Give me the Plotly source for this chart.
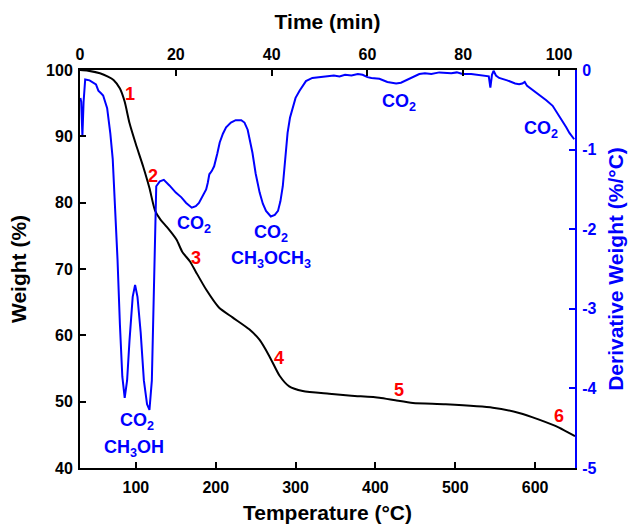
import plotly.graph_objects as go

# ---- data ----
temp_w = [30, 40, 55, 65, 72, 80, 86, 92, 100, 109, 117, 124, 131, 139, 151, 158, 168, 175,
          188, 204, 221, 242, 255, 267, 280, 292, 309, 342, 370, 405, 425, 447, 488, 547,
          580, 605, 630, 650]
weight = [100, 99.9, 99.5, 99.0, 98.5, 97.2, 95.2, 92.0, 88.8, 85.5, 82.2, 78.8, 77.4, 76.3,
          74.4, 72.6, 71.1, 69.6, 66.9, 64.2, 62.7, 60.9, 59.3, 56.9, 53.9, 52.3, 51.6, 51.2,
          50.9, 50.6, 50.2, 49.8, 49.6, 49.1, 48.3, 47.3, 46.1, 44.8]

temp_d = [30.5, 31.5, 33, 34.5, 36.5, 42, 50, 53, 56, 59, 64, 68, 71, 74, 77, 80, 83, 86, 89,
          92, 96, 99, 102, 106, 110, 114, 117, 120, 122, 124, 125.5, 130, 135, 142, 150, 157,
          163, 170, 175, 179, 184, 188, 190, 192, 195, 198, 202, 205, 209, 213, 219, 225, 232,
          236, 240, 246, 250, 255, 259, 263, 269, 274, 278, 281, 284, 287, 290, 293, 296, 300,
          305, 313, 321, 330, 340, 348, 355, 362, 370, 378, 384, 390, 395, 405, 415, 426, 432,
          438, 445, 455, 462, 470, 480, 488, 495, 502, 509, 520, 528, 534, 542, 544, 546, 548,
          551, 555, 565, 575, 580, 584, 587, 590, 597, 605, 614, 622, 628, 634, 639, 643, 646,
          649]
deriv = [-0.35, -0.40, -0.83, -0.40, -0.12, -0.13, -0.18, -0.26, -0.29, -0.32, -0.48, -0.80,
         -1.12, -1.70, -2.38, -3.20, -3.85, -4.12, -3.90, -3.40, -2.85, -2.70, -2.85, -3.30,
         -3.90, -4.20, -4.27, -3.90, -3.00, -2.00, -1.46, -1.40, -1.38, -1.45, -1.54, -1.60,
         -1.67, -1.73, -1.71, -1.67, -1.58, -1.50, -1.42, -1.31, -1.27, -1.21, -1.05, -0.91,
         -0.80, -0.72, -0.66, -0.63, -0.63, -0.66, -0.75, -1.04, -1.30, -1.54, -1.68, -1.77,
         -1.84, -1.82, -1.77, -1.65, -1.46, -1.10, -0.79, -0.60, -0.49, -0.35, -0.26, -0.14,
         -0.10, -0.09, -0.08, -0.07, -0.08, -0.06, -0.07, -0.05, -0.06, -0.09, -0.10, -0.11,
         -0.15, -0.17, -0.16, -0.13, -0.09, -0.05, -0.04, -0.05, -0.03, -0.04, -0.04, -0.03,
         -0.05, -0.05, -0.06, -0.07, -0.08, -0.22, -0.06, -0.01, -0.07, -0.10, -0.13, -0.17,
         -0.18, -0.17, -0.15, -0.20, -0.25, -0.31, -0.38, -0.45, -0.54, -0.64, -0.72, -0.79,
         -0.83, -0.87]

temp_ticks = [100, 200, 300, 400, 500, 600]
time_ticks = [0, 20, 40, 60, 80, 100]
weight_ticks = [40, 50, 60, 70, 80, 90, 100]
deriv_ticks = [-5, -4, -3, -2, -1, 0]
time_range = [0, 103.33]

stage_labels = ["1", "2", "3", "4", "5", "6"]
stage_T = [92, 122, 175, 279, 430, 630]
stage_W = [96.4, 84.0, 71.7, 56.6, 51.8, 47.9]

gas_labels = ["CO<sub>2</sub>", "CH<sub>3</sub>OH", "CO<sub>2</sub>", "CO<sub>2</sub>",
              "CH<sub>3</sub>OCH<sub>3</sub>", "CO<sub>2</sub>", "CO<sub>2</sub>"]
gas_T = [102, 98, 173, 269, 269, 430, 607]
gas_D = [-4.42, -4.76, -1.94, -2.05, -2.38, -0.41, -0.75]

BLUE = "#0000ff"
FONT = "Liberation Sans"

fig = go.Figure()
fig.add_trace(go.Scatter(x=temp_w, y=weight, mode="lines",
                         line=dict(color="black", width=2, shape="spline", smoothing=0.6),
                         showlegend=False, xaxis="x", yaxis="y"))
fig.add_trace(go.Scatter(x=temp_d, y=deriv, mode="lines", line=dict(color=BLUE, width=2),
                         showlegend=False, xaxis="x", yaxis="y2"))
# top time axis reference (no visible mark)
fig.add_trace(go.Scatter(x=time_range, y=[None, None], mode="lines", showlegend=False,
                         hoverinfo="skip", xaxis="x2", yaxis="y"))

for t, T, W in zip(stage_labels, stage_T, stage_W):
    fig.add_annotation(x=T, y=W, xref="x", yref="y", text=t, showarrow=False,
                       font=dict(family=FONT, size=18, color="#ff0000", weight="bold"))
for t, T, D in zip(gas_labels, gas_T, gas_D):
    fig.add_annotation(x=T, y=D, xref="x", yref="y2", text=t, showarrow=False,
                       font=dict(family=FONT, size=18, color=BLUE, weight="bold"))

tickfont = dict(family=FONT, size=16, color="black", weight="bold")
titlefont = dict(family=FONT, size=21, color="black", weight="bold")

fig.update_layout(
    width=630, height=524,
    margin=dict(l=80, r=55, t=70, b=56),
    plot_bgcolor="white", paper_bgcolor="white",
    xaxis=dict(range=[30, 650], tickvals=temp_ticks, ticks="inside", ticklen=6, tickwidth=2,
               tickcolor="black", showline=True, linecolor="black", linewidth=2, showgrid=False,
               zeroline=False, tickfont=tickfont, ticklabelstandoff=4, automargin=False,
               title=dict(text="Temperature (°C)", font=titlefont, standoff=10)),
    xaxis2=dict(range=time_range, tickvals=time_ticks, overlaying="x", side="top", anchor="y",
                ticks="inside", ticklen=6, tickwidth=2, tickcolor="black", showline=True,
                linecolor="black", linewidth=2, showgrid=False, zeroline=False, tickfont=tickfont,
                ticklabelstandoff=2, automargin=False,
                title=dict(text="Time (min)", font=titlefont, standoff=10)),
    yaxis=dict(range=[40, 100], tickvals=weight_ticks, ticks="inside", ticklen=6, tickwidth=2,
               tickcolor="black", showline=True, linecolor="black", linewidth=2, showgrid=False,
               zeroline=False, tickfont=tickfont, ticklabelstandoff=2, automargin=False,
               title=dict(text="Weight (%)", font=titlefont, standoff=14)),
    yaxis2=dict(range=[-5, 0], tickvals=deriv_ticks, ticktext=[str(v) for v in deriv_ticks],
                overlaying="y", side="right", anchor="x", ticks="inside", ticklen=6, tickwidth=2,
                tickcolor=BLUE, showline=True, linecolor=BLUE, linewidth=2, showgrid=False,
                zeroline=False, tickfont=dict(family=FONT, size=16, color=BLUE, weight="bold"),
                ticklabelstandoff=2, automargin=False,
                title=dict(text="Derivative Weight (%/°C)",
                           font=dict(family=FONT, size=21, color=BLUE, weight="bold"), standoff=13)),
)

fig.write_html("out.html", config={"displayModeBar": False},
               post_script="document.body.style.margin='0';")
